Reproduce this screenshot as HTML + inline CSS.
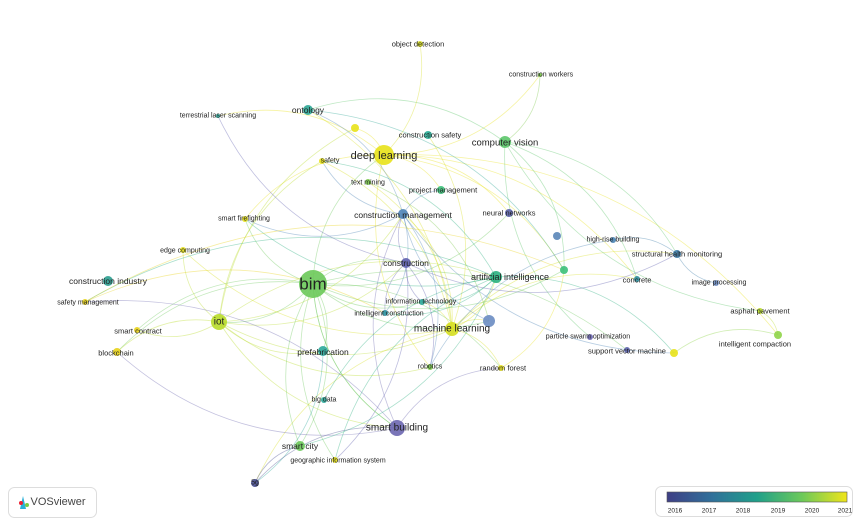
<!DOCTYPE html>
<html><head><meta charset="utf-8"><style>
html,body{margin:0;padding:0;background:#fff;}
svg{display:block;font-family:"Liberation Sans","DejaVu Sans",sans-serif;}
text{fill:#222;text-anchor:middle;dominant-baseline:central;}
</style></head><body>
<svg id="s" width="865" height="526" viewBox="0 0 865 526">
<defs><linearGradient id="vg" x1="0" x2="1"><stop offset="0" stop-color="#3f3f85"/><stop offset="0.25" stop-color="#30709a"/><stop offset="0.5" stop-color="#20a08a"/><stop offset="0.75" stop-color="#6cc95a"/><stop offset="1" stop-color="#f0e51a"/></linearGradient></defs>
<g id="edges"></g>
<g id="nodes"></g>
<g id="labels">
<text x="313" y="284" font-size="17">bim</text>
<text x="384" y="156" font-size="11">deep learning</text>
<text x="219" y="322" font-size="10">iot</text>
<text x="452" y="329" font-size="10">machine learning</text>
<text x="397" y="428" font-size="10">smart building</text>
<text x="505" y="143" font-size="9.5">computer vision</text>
<text x="510" y="277" font-size="9">artificial intelligence</text>
<text x="406" y="263" font-size="8.5">construction</text>
<text x="403" y="215" font-size="8.5">construction management</text>
<text x="323" y="352" font-size="8.5">prefabrication</text>
<text x="108" y="281" font-size="8.5">construction industry</text>
<text x="308" y="110" font-size="8.5">ontology</text>
<text x="300" y="446" font-size="8.5">smart city</text>
<text x="509" y="213" font-size="7.5">neural networks</text>
<text x="677" y="254" font-size="7.5">structural health monitoring</text>
<text x="637" y="280" font-size="7.5">concrete</text>
<text x="613" y="240" font-size="7">high-rise building</text>
<text x="719" y="283" font-size="7">image processing</text>
<text x="760" y="311" font-size="7.5">asphalt pavement</text>
<text x="755" y="344" font-size="7.5">intelligent compaction</text>
<text x="627" y="351" font-size="7.5">support vector machine</text>
<text x="588" y="337" font-size="7">particle swarm optimization</text>
<text x="503" y="368" font-size="7.5">random forest</text>
<text x="430" y="367" font-size="7">robotics</text>
<text x="324" y="400" font-size="7">big data</text>
<text x="338" y="461" font-size="7">geographic information system</text>
<text x="255" y="483" font-size="7">5g</text>
<text x="116" y="353" font-size="7.5">blockchain</text>
<text x="138" y="331" font-size="7.5">smart contract</text>
<text x="88" y="303" font-size="7">safety management</text>
<text x="185" y="251" font-size="7">edge computing</text>
<text x="244" y="219" font-size="7">smart firefighting</text>
<text x="218" y="116" font-size="7">terrestrial laser scanning</text>
<text x="330" y="161" font-size="7">safety</text>
<text x="368" y="183" font-size="7">text mining</text>
<text x="443" y="190" font-size="7.5">project management</text>
<text x="430" y="135" font-size="7.5">construction safety</text>
<text x="418" y="44" font-size="7.5">object detection</text>
<text x="541" y="75" font-size="7">construction workers</text>
<text x="421" y="302" font-size="7">information technology</text>
<text x="389" y="314" font-size="7">intelligent construction</text>
</g>
<rect x="8.5" y="487.5" width="88" height="30" rx="6" fill="#fff" stroke="#ddd"/>
<path d="M20 509 L23 496 L26 509 Z" fill="#2ab0d8"/><circle cx="21" cy="503" r="2" fill="#e23"/><circle cx="27" cy="505" r="2" fill="#7c4"/>
<text x="58" y="502" font-size="11" style="fill:#444">VOSviewer</text>
<rect x="655.5" y="486.5" width="197" height="30" rx="6" fill="#fff" stroke="#ddd"/>
<rect x="667" y="492" width="180" height="10" fill="url(#vg)" stroke="#555" stroke-width="0.6"/>
<g font-size="6.5" style="fill:#555">
<text x="675" y="511">2016</text><text x="709" y="511">2017</text><text x="743" y="511">2018</text><text x="778" y="511">2019</text><text x="812" y="511">2020</text><text x="845" y="511">2021</text></g>
</svg>
<script>
var N=[[313,284,14,"#6cc95a"],[384,155,10,"#e8e21a"],[219,322,8,"#b8dc2a"],[452,329,7,"#d6df1f"],[397,428,8,"#6b66b0"],[505,142,6,"#5cc66a"],[496,277,6,"#2ab07f"],[406,263,5,"#5e5fae"],[403,214,5,"#4e84b7"],[323,351,5,"#2aa89a"],[108,281,5,"#2a9d8f"],[308,110,5,"#2ba593"],[300,446,5,"#6cc95a"],[509,213,4,"#5a62aa"],[677,254,4,"#3a7aa8"],[637,279,3,"#2d8c9a"],[613,240,3,"#4a85b5"],[716,283,3,"#7090c8"],[760,311,3,"#b8dc2a"],[778,335,4,"#8fd448"],[627,350,3,"#5a62aa"],[674,353,4,"#e8e21a"],[590,337,3,"#6b66b0"],[501,368,3,"#e8e21a"],[430,367,3,"#7cc94a"],[324,400,3,"#2aa89a"],[335,460,3,"#e8e21a"],[255,483,4,"#454a8e"],[117,352,4,"#e8d21a"],[137,330,3,"#e8d21a"],[85,302,3,"#e8d21a"],[183,250,3,"#e8e21a"],[245,219,3,"#e8e21a"],[218,116,2,"#2aa89a"],[322,161,3,"#e8e21a"],[368,182,3,"#7cc94a"],[441,190,4,"#3cc07a"],[428,135,4,"#2ab09a"],[420,44,3,"#d8df1f"],[540,75,2,"#7cc94a"],[355,128,4,"#e8e21a"],[489,321,6,"#6a8cc2"],[557,236,4,"#5a86b8"],[564,270,4,"#3cc07a"],[422,302,3,"#2aa89a"],[385,313,3,"#2a8f9f"]];
var seed=11;function r(){seed=(seed*16807)%2147483647;return seed/2147483647;}
var E="";
function edge(a,b){var A=N[a],B=N[b];var mx=(A[0]+B[0])/2,my=(A[1]+B[1])/2,dx=B[0]-A[0],dy=B[1]-A[1];var k=(r()<0.5?-1:1)*0.25;var cx=mx-dy*k,cy=my+dx*k;E+='<path d="M'+A[0]+' '+A[1]+' Q'+cx+' '+cy+' '+B[0]+' '+B[1]+'" stroke="'+A[3]+'" stroke-opacity="0.4" stroke-width="0.8" fill="none"/>';}
var hubs=[0,1,2,3];var sub=[5,6,7,8];
for(var i=0;i<N.length;i++){for(var j=i+1;j<N.length;j++){var d=Math.hypot(N[i][0]-N[j][0],N[i][1]-N[j][1]);var p=0.02;if(hubs.indexOf(i)>=0||hubs.indexOf(j)>=0)p=0.42;else if(sub.indexOf(i)>=0||sub.indexOf(j)>=0)p=0.2;if(d>300)p*=0.4;if(r()<p)edge(i,j);}}
edge(27,4);edge(27,12);edge(19,21);edge(18,19);edge(14,17);edge(14,16);edge(39,5);edge(38,1);edge(0,12);edge(0,4);
document.getElementById("edges").innerHTML=E;
var C="";N.forEach(function(n){C+='<circle cx="'+n[0]+'" cy="'+n[1]+'" r="'+n[2]+'" fill="'+n[3]+'" fill-opacity="0.9"/>';});
document.getElementById("nodes").innerHTML=C;
</script>
</body></html>
